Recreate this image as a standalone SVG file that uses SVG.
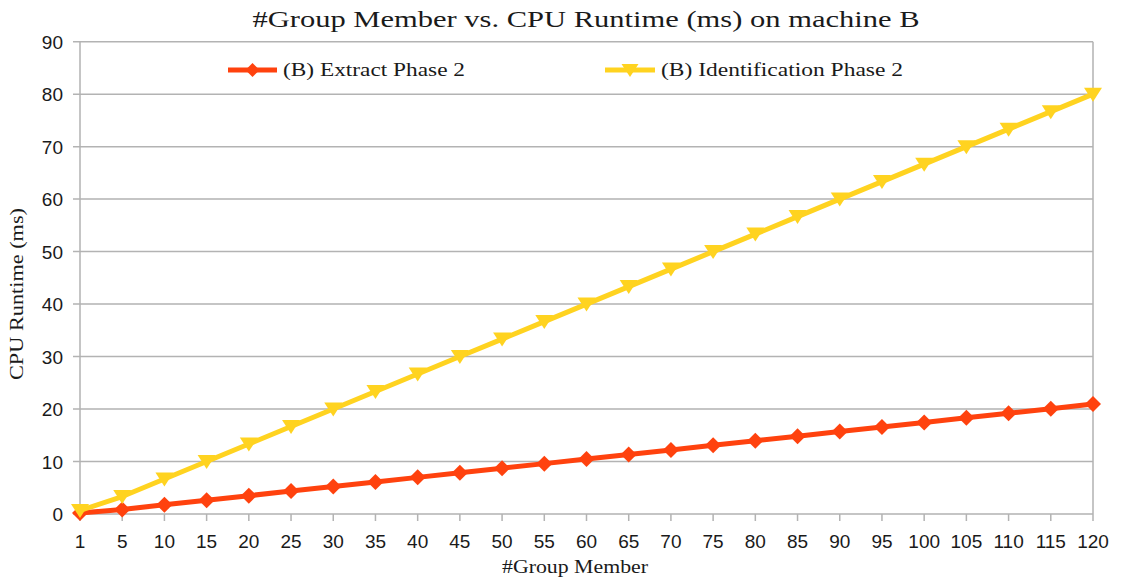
<svg xmlns="http://www.w3.org/2000/svg" width="1124" height="581" viewBox="0 0 1124 581">
<style>
.grid{stroke:#b3b3b3;stroke-width:1.5;fill:none}
.ytl{font-family:"Liberation Sans",Arial,sans-serif;font-size:19px;fill:#1a1a1a;text-anchor:end}
.xtl{font-family:"Liberation Sans",Arial,sans-serif;font-size:19px;fill:#1a1a1a;text-anchor:middle}
.ser{font-family:"Liberation Serif","Times New Roman",serif;fill:#1a1a1a}
.ext{stroke:#ff420e;stroke-width:5;fill:none;stroke-linejoin:round}
.idf{stroke:#ffd320;stroke-width:5;fill:none;stroke-linejoin:round}
</style>
<defs>
<marker id="dia" markerUnits="userSpaceOnUse" markerWidth="18" markerHeight="18" viewBox="-9 -9 18 18" refX="0" refY="0" orient="0" overflow="visible">
<path d="M0,-8 L8,0 L0,8 L-8,0 Z" fill="#ff420e"/>
</marker>
<marker id="tri" markerUnits="userSpaceOnUse" markerWidth="20" markerHeight="20" viewBox="-10 -10 20 20" refX="0" refY="0" orient="0" overflow="visible">
<path d="M-9,-6.5 L9,-6.5 L0,7.5 Z" fill="#ffd320"/>
</marker>
</defs>
<rect width="1124" height="581" fill="#ffffff"/>
<g id="title"><text class="ser" x="586" y="27" font-size="24" text-anchor="middle" textLength="667" lengthAdjust="spacingAndGlyphs">#Group Member vs. CPU Runtime (ms) on machine B</text></g>
<g id="grid">
<path class="grid" d="M73,514H1093M73,461.52H1093M73,409.04H1093M73,356.56H1093M73,304.08H1093M73,251.6H1093M73,199.11H1093M73,146.63H1093M73,94.15H1093M73,41.67H1093"/>
<path class="grid" d="M80,41.67V521M1093,41.67V521M122.21,514V521M164.42,514V521M206.62,514V521M248.83,514V521M291.04,514V521M333.25,514V521M375.46,514V521M417.67,514V521M459.87,514V521M502.08,514V521M544.29,514V521M586.5,514V521M628.71,514V521M670.92,514V521M713.12,514V521M755.33,514V521M797.54,514V521M839.75,514V521M881.96,514V521M924.17,514V521M966.37,514V521M1008.58,514V521M1050.79,514V521"/>
</g>
<g id="y-axis">
<text class="ytl" x="63" y="521">0</text>
<text class="ytl" x="63" y="468.5">10</text>
<text class="ytl" x="63" y="416">20</text>
<text class="ytl" x="63" y="363.5">30</text>
<text class="ytl" x="63" y="311">40</text>
<text class="ytl" x="63" y="258.6">50</text>
<text class="ytl" x="63" y="206.1">60</text>
<text class="ytl" x="63" y="153.6">70</text>
<text class="ytl" x="63" y="101.1">80</text>
<text class="ytl" x="63" y="48.7">90</text>
<text class="ser" font-size="18" text-anchor="middle" transform="translate(23,294) rotate(-90)" textLength="172" lengthAdjust="spacingAndGlyphs">CPU Runtime (ms)</text>
</g>
<g id="x-axis">
<text class="xtl" x="80" y="548">1</text>
<text class="xtl" x="122.21" y="548">5</text>
<text class="xtl" x="164.42" y="548">10</text>
<text class="xtl" x="206.62" y="548">15</text>
<text class="xtl" x="248.83" y="548">20</text>
<text class="xtl" x="291.04" y="548">25</text>
<text class="xtl" x="333.25" y="548">30</text>
<text class="xtl" x="375.46" y="548">35</text>
<text class="xtl" x="417.67" y="548">40</text>
<text class="xtl" x="459.87" y="548">45</text>
<text class="xtl" x="502.08" y="548">50</text>
<text class="xtl" x="544.29" y="548">55</text>
<text class="xtl" x="586.5" y="548">60</text>
<text class="xtl" x="628.71" y="548">65</text>
<text class="xtl" x="670.92" y="548">70</text>
<text class="xtl" x="713.12" y="548">75</text>
<text class="xtl" x="755.33" y="548">80</text>
<text class="xtl" x="797.54" y="548">85</text>
<text class="xtl" x="839.75" y="548">90</text>
<text class="xtl" x="881.96" y="548">95</text>
<text class="xtl" x="924.17" y="548">100</text>
<text class="xtl" x="966.37" y="548">105</text>
<text class="xtl" x="1008.58" y="548">110</text>
<text class="xtl" x="1050.79" y="548">115</text>
<text class="xtl" x="1093" y="548">120</text>
<text class="ser" x="575" y="573" font-size="18" text-anchor="middle" textLength="146" lengthAdjust="spacingAndGlyphs">#Group Member</text>
</g>
<g id="series">
<polyline id="extract-phase-2" class="ext" marker-start="url(#dia)" marker-mid="url(#dia)" marker-end="url(#dia)" points="80,513.08 122.21,509.42 164.42,504.84 206.62,500.26 248.83,495.68 291.04,491.11 333.25,486.53 375.46,481.95 417.67,477.37 459.87,472.79 502.08,468.21 544.29,463.63 586.5,459.05 628.71,454.47 670.92,449.89 713.12,445.32 755.33,440.74 797.54,436.16 839.75,431.58 881.96,427 924.17,422.42 966.37,417.84 1008.58,413.26 1050.79,408.68 1093,404.11"/>
<polyline id="identification-phase-2" class="idf" marker-start="url(#tri)" marker-mid="url(#tri)" marker-end="url(#tri)" points="80,510.5 122.21,496.51 164.42,479.01 206.62,461.52 248.83,444.03 291.04,426.53 333.25,409.04 375.46,391.55 417.67,374.05 459.87,356.56 502.08,339.07 544.29,321.57 586.5,304.08 628.71,286.58 670.92,269.09 713.12,251.6 755.33,234.1 797.54,216.61 839.75,199.12 881.96,181.62 924.17,164.13 966.37,146.64 1008.58,129.14 1050.79,111.65 1093,94.16"/>
</g>
<g id="legend">
<g id="legend-extract">
<path class="ext" d="M228,70H277"/>
<path d="M252.5,63 L259.5,70 L252.5,77 L245.5,70 Z" fill="#ff420e"/>
<text class="ser" x="283" y="76" font-size="18" textLength="182" lengthAdjust="spacingAndGlyphs">(B) Extract Phase 2</text>
</g>
<g id="legend-identification">
<path class="idf" d="M605,70H655"/>
<path d="M621.5,64 L638.5,64 L630,77 Z" fill="#ffd320"/>
<text class="ser" x="661" y="76" font-size="18" textLength="242" lengthAdjust="spacingAndGlyphs">(B) Identification Phase 2</text>
</g>
</g>
</svg>
